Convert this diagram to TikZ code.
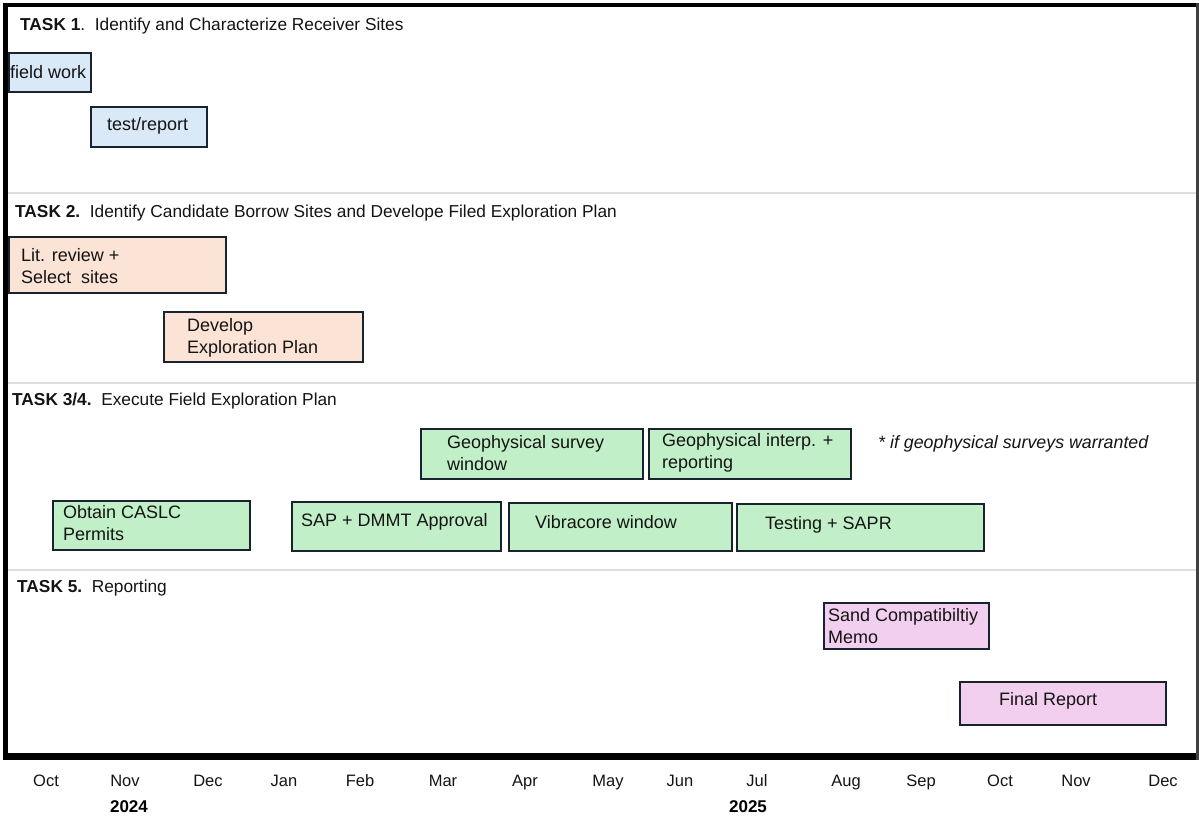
\documentclass[tikz,border=0pt]{standalone}
\usepackage{fontspec}
\setmainfont{Liberation Sans}
\definecolor{bluefill}{RGB}{218,233,247}
\definecolor{peachfill}{RGB}{251,227,214}
\definecolor{greenfill}{RGB}{193,240,200}
\definecolor{pinkfill}{RGB}{242,207,238}
\definecolor{boxline}{RGB}{25,35,48}
\definecolor{sepline}{RGB}{222,222,222}
\definecolor{txtcol}{RGB}{20,20,20}
\begin{document}
\begin{tikzpicture}[x=1pt,y=-1pt,
  box/.style={draw=boxline, line width=2pt, anchor=north west, inner sep=0pt, rectangle},
  bluebox/.style={box, fill=bluefill},
  peachbox/.style={box, fill=peachfill},
  greenbox/.style={box, fill=greenfill},
  pinkbox/.style={box, fill=pinkfill},
  txt/.style={anchor=west, inner sep=0pt, align=left, text=txtcol, font=\fontsize{18}{22}\selectfont},
  head/.style={anchor=west, inner sep=0pt, text=txtcol, font=\fontsize{17.3}{20}\selectfont},
  month/.style={anchor=center, inner sep=0pt, text height=12pt, text depth=4pt, text=txtcol, font=\fontsize{16.5}{20}\selectfont},
  year/.style={anchor=center, inner sep=0pt, text=black, font=\fontsize{17}{20}\selectfont\bfseries},
  sep/.style={draw=sepline, line width=1.5pt}
]
\useasboundingbox (0,0) rectangle (1199,819);
\fill[white] (0,0) rectangle (1199,819);

% separators
\coordinate (s1l) at (8,193); \coordinate (s1r) at (1196,193);
\coordinate (s2l) at (8,383); \coordinate (s2r) at (1196,383);
\coordinate (s3l) at (8,570); \coordinate (s3r) at (1196,570);
\draw[sep] (s1l) -- (s1r);
\draw[sep] (s2l) -- (s2r);
\draw[sep] (s3l) -- (s3r);

% frame
\coordinate (fTL) at (3,5); \coordinate (fTR) at (1199,5);
\coordinate (fLT) at (5.5,3); \coordinate (fLB) at (5.5,760);
\coordinate (fBL) at (3,756.5); \coordinate (fBR) at (1199,756.5);
\coordinate (fRT) at (1197.5,3); \coordinate (fRB) at (1197.5,760);
\draw[line width=4.5pt, black] (fTL) -- (fTR);
\draw[line width=5pt, black] (fLT) -- (fLB);
\draw[line width=6.5pt, black] (fBL) -- (fBR);
\draw[line width=3pt, black!75] (fRT) -- (fRB);

% headers
\node[head] (h1) at (20,26) {\textbf{TASK 1}.\ \ Identify and Characterize Receiver Sites};
\node[head] (h2) at (15,213) {\textbf{TASK 2.}\ \ Identify Candidate Borrow Sites and Develope Filed Exploration Plan};
\node[head] (h3) at (12,401) {\textbf{TASK 3/4.}\ \ Execute Field Exploration Plan};
\node[head] (h5) at (17,588) {\textbf{TASK 5.}\ \ Reporting};

% Task 1
\node[bluebox, minimum width=82pt, minimum height=39pt] (fw) at (8,52) {};
\node[txt] (fwt) at ([xshift=2pt,yshift=0.5pt]fw.west) {field work};
\node[bluebox, minimum width=116pt, minimum height=40pt] (tr) at (90,106) {};
\node[txt] (trt) at ([xshift=17pt,yshift=1pt]tr.west) {test/report};

% Task 2
\node[peachbox, minimum width=217pt, minimum height=56pt] (lit) at (8,236) {};
\node[txt] (litt) at ([xshift=13pt,yshift=-1pt]lit.west) {Lit. review +\\Select\ \ sites};
\node[peachbox, minimum width=199pt, minimum height=50pt] (dev) at (163,311) {};
\node[txt] (devt) at ([xshift=24pt,yshift=-1pt]dev.west) {Develop\\Exploration Plan};

% Task 3/4
\node[greenbox, minimum width=222pt, minimum height=50pt] (geo) at (420,428) {};
\node[txt] (geot) at ([xshift=27pt,yshift=1pt]geo.west) {Geophysical survey\\window};
\node[greenbox, minimum width=202pt, minimum height=50pt] (gint) at (648,428) {};
\node[txt] (gintt) at ([xshift=14pt,yshift=1pt]gint.west) {Geophysical interp. +\\reporting};
\node[anchor=west, inner sep=0pt, text=txtcol, font=\fontsize{17.8}{20}\selectfont\itshape] (note) at (878,444) {* if geophysical surveys warranted};

\node[greenbox, minimum width=197pt, minimum height=49pt] (obt) at (52,500) {};
\node[txt] (obtt) at ([xshift=11pt,yshift=2.5pt]obt.west) {Obtain CASLC\\Permits};
\node[greenbox, minimum width=209pt, minimum height=49pt] (sap) at (291,501) {};
\node[txt] (sapt) at ([xshift=10pt,yshift=5pt]sap.west) {SAP + DMMT Approval};
\node[greenbox, minimum width=223pt, minimum height=48pt] (vib) at (508,502) {};
\node[txt] (vibt) at ([xshift=27pt,yshift=5pt]vib.west) {Vibracore window};
\node[greenbox, minimum width=247pt, minimum height=47pt] (tst) at (736,503) {};
\node[txt] (tstt) at ([xshift=29pt,yshift=2.5pt]tst.west) {Testing + SAPR};

% Task 5
\node[pinkbox, minimum width=165pt, minimum height=46pt] (sand) at (823,602) {};
\node[txt] (sandt) at ([xshift=5pt,yshift=-0.5pt]sand.west) {Sand Compatibiltiy\\Memo};
\node[pinkbox, minimum width=206pt, minimum height=43pt] (fin) at (959,681) {};
\node[txt] (fint) at ([xshift=40pt,yshift=2.5pt]fin.west) {Final Report};

% months
\node[month] (m1) at (46,782) {Oct};
\node[month] (m2) at (125,782) {Nov};
\node[month] (m3) at (208,782) {Dec};
\node[month] (m4) at (284,782) {Jan};
\node[month] (m5) at (360,782) {Feb};
\node[month] (m6) at (443,782) {Mar};
\node[month] (m7) at (525,782) {Apr};
\node[month] (m8) at (608,782) {May};
\node[month] (m9) at (680,782) {Jun};
\node[month] (m10) at (757,782) {Jul};
\node[month] (m11) at (846,782) {Aug};
\node[month] (m12) at (921,782) {Sep};
\node[month] (m13) at (1000,782) {Oct};
\node[month] (m14) at (1076,782) {Nov};
\node[month] (m15) at (1163,782) {Dec};
\node[year] (y1) at (129,807) {2024};
\node[year] (y2) at (748,807) {2025};
\end{tikzpicture}
\end{document}
